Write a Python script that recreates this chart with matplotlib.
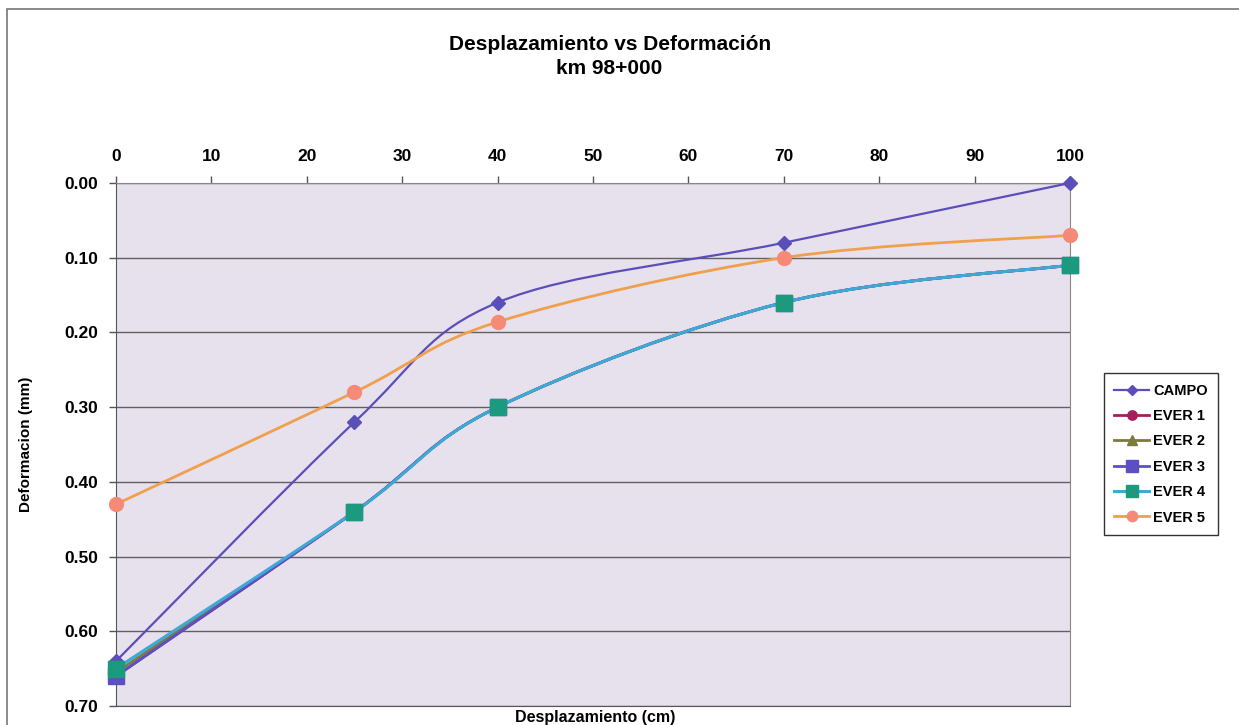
import numpy as np
import matplotlib.pyplot as plt
from matplotlib.path import Path
from matplotlib.patches import PathPatch, Rectangle
from matplotlib.lines import Line2D

plt.rcParams['font.family'] = ['Liberation Sans', 'DejaVu Sans']
plt.rcParams['font.weight'] = 'bold'

# distancias (cm) y deformaciones (mm)
desplazamiento = [0, 25, 40, 70, 100]
campo = [0.64, 0.32, 0.16, 0.08, 0.00]
ever1 = [0.66, 0.44, 0.30, 0.16, 0.11]
ever2 = [0.655, 0.44, 0.30, 0.16, 0.11]
ever3 = [0.66, 0.44, 0.30, 0.16, 0.11]
ever4 = [0.65, 0.44, 0.30, 0.16, 0.11]
ever5 = [0.43, 0.28, 0.186, 0.10, 0.07]

series = [
    ('CAMPO', campo, '#5a4fb8', '#5a4fb8', 'D', 7, 1.6),
    ('EVER 1', ever1, '#a3205c', '#a3205c', 'o', 9, 2.0),
    ('EVER 2', ever2, '#7d7a40', '#7d7a40', '^', 9, 2.0),
    ('EVER 3', ever3, '#5a50c4', '#5a50c4', 's', 12, 2.0),
    ('EVER 4', ever4, '#3fa9d6', '#1b9a7e', 's', 12, 2.2),
    ('EVER 5', ever5, '#f0a04c', '#f58b76', 'o', 10, 2.0),
]


def smooth_path(x, y):
    # curva suavizada tipo Catmull-Rom con segmentos Bezier cubicos
    pts = np.column_stack([x, y]).astype(float)
    n = len(pts)
    verts = [pts[0]]
    codes = [Path.MOVETO]
    for i in range(n - 1):
        p0 = pts[max(i - 1, 0)]
        p1 = pts[i]
        p2 = pts[i + 1]
        p3 = pts[min(i + 2, n - 1)]
        c1 = p1 + (p2 - p0) / 6.0
        c2 = p2 - (p3 - p1) / 6.0
        verts += [c1, c2, p2]
        codes += [Path.CURVE4] * 3
    return Path(verts, codes)


fig = plt.figure(figsize=(12.39, 7.25), dpi=100)
ax = fig.add_axes([0.0936, 0.0262, 0.770, 0.7214])
ax.set_facecolor('#e7e1ee')

for name, vals, lc, mc, mk, ms, lw in series:
    ax.add_patch(PathPatch(smooth_path(desplazamiento, vals), facecolor='none',
                           edgecolor=lc, lw=lw, zorder=3))
    ax.plot(desplazamiento, vals, ls='none', marker=mk, ms=ms,
            mfc=mc, mec=mc, zorder=4, clip_on=False)

ax.set_xlim(0, 100)
ax.set_ylim(0.70, 0.00)
ax.set_xticks(np.arange(0, 101, 10))
ax.set_yticks(np.arange(0, 0.71, 0.1))
ax.set_yticklabels(['%.2f' % v for v in np.arange(0, 0.71, 0.1)])
ax.xaxis.tick_top()
ax.tick_params(axis='both', labelsize=12.5, direction='out', length=5,
               width=1, color='#555555')
ax.tick_params(axis='x', pad=9)
ax.tick_params(axis='y', pad=8)
ax.yaxis.grid(True, color='#606060', lw=1)
ax.set_axisbelow(True)
for s in ['top', 'right']:
    ax.spines[s].set_color('#888888')
for s in ['left', 'bottom']:
    ax.spines[s].set_color('#555555')

fig.text(0.021, 0.0262 + 0.7214 / 2, 'Deformacion (mm)', rotation=90,
         ha='center', va='center', fontsize=11, fontweight='bold')
fig.text(0.48, 0.011, 'Desplazamiento (cm)', ha='center', va='center',
         fontsize=11.5, fontweight='bold')
fig.text(0.492, 0.939, 'Desplazamiento vs Deformación', ha='center',
         va='center', fontsize=15, fontweight='bold')
fig.text(0.492, 0.906, 'km 98+000', ha='center', va='center',
         fontsize=15, fontweight='bold')

handles = [Line2D([], [], color=lc, lw=lw, marker=mk, mfc=mc, mec=mc,
                  ms=ms * 0.75) for name, vals, lc, mc, mk, ms, lw in series]
labels = [s[0] for s in series]
leg = fig.legend(handles, labels, loc='upper left',
                 bbox_to_anchor=(0.885, 0.495), fontsize=10.5,
                 frameon=True, fancybox=False, edgecolor='black',
                 handlelength=2.4, labelspacing=0.78, borderpad=0.7,
                 handletextpad=0.3)
leg.get_frame().set_linewidth(1.0)

# marco exterior del grafico
fig.patches.append(Rectangle((7 / 1239, -0.01), 1.1, 1 - 9 / 725 + 0.01,
                             transform=fig.transFigure, fill=False,
                             edgecolor='#777777', lw=1.2))

fig.savefig('out.png', dpi=100)
